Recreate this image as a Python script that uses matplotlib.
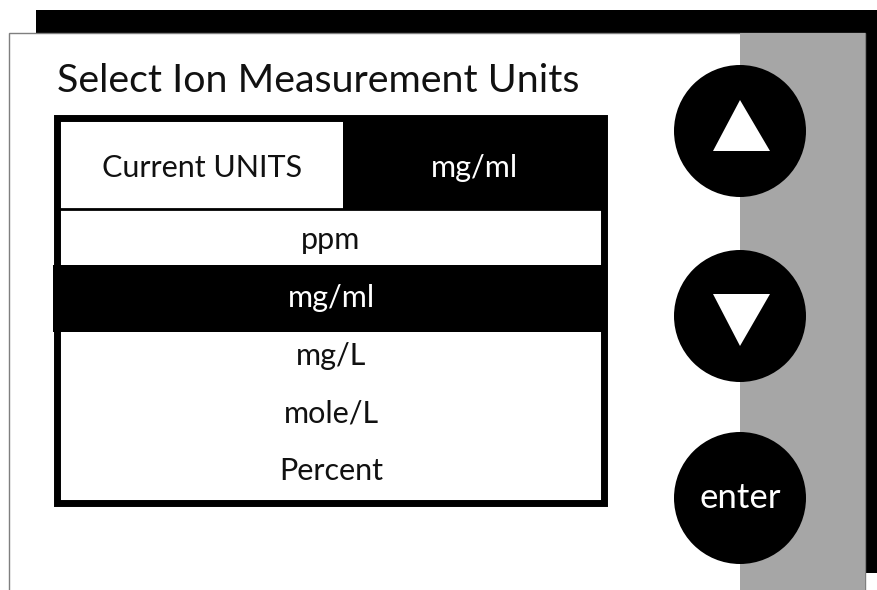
import matplotlib.pyplot as plt
from matplotlib.patches import Rectangle, Circle, Polygon

plt.rcParams['font.family'] = ['Lato', 'DejaVu Sans']

title = "Select Ion Measurement Units"
currentLabel = "Current UNITS"
currentUnit = "mg/ml"
unitOptions = ["ppm", "mg/ml", "mg/L", "mole/L", "Percent"]
selectedUnit = "mg/ml"
buttons = ["up", "down", "enter"]


def drawScreen(ax):
    # drop shadow and panel
    ax.add_patch(Rectangle((36, 10), 841, 563, facecolor="black", edgecolor="none"))
    ax.add_patch(Rectangle((9, 33), 856, 600, facecolor="white", edgecolor="#7f7f7f", linewidth=1))
    ax.add_patch(Rectangle((740, 33), 125, 600, facecolor="#a6a6a6", edgecolor="none"))

    ax.text(57, 81, title, fontsize=28.4, ha="left", va="center", color="#111111")

    # list box
    ax.add_patch(Rectangle((57, 118), 547, 385, facecolor="white", edgecolor="black", linewidth=5))
    ax.add_patch(Rectangle((343, 118), 261, 91, facecolor="black", edgecolor="none"))
    ax.plot([57, 604], [209, 209], color="black", linewidth=2)
    ax.text(202, 168, currentLabel, fontsize=22, ha="center", va="center", color="#111111")
    ax.text(474, 168, currentUnit, fontsize=22, ha="center", va="center", color="white")

    rowStart = 240
    rowStep = 57.75
    for i, unit in enumerate(unitOptions):
        y = rowStart + i * rowStep
        col = "#111111"
        if unit == selectedUnit:
            ax.add_patch(Rectangle((53, y - 33), 553, 67, facecolor="black", edgecolor="none"))
            col = "white"
        ax.text(331, y, unit, fontsize=22, ha="center", va="center", color=col)

    # buttons
    cx = 740
    r = 66
    centers = {"up": 131, "down": 316, "enter": 498}
    for b in buttons:
        cy = centers[b]
        ax.add_patch(Circle((cx, cy), r, facecolor="black", edgecolor="none"))
        if b == "up":
            ax.add_patch(Polygon([(713, cy + 20), (770, cy + 20), (cx, cy - 31)], facecolor="white"))
        elif b == "down":
            ax.add_patch(Polygon([(713, cy - 22), (770, cy - 22), (cx, cy + 30)], facecolor="white"))
        else:
            ax.text(cx, cy, "enter", fontsize=25, ha="center", va="center", color="white")


def main():
    fig = plt.figure(figsize=(8.77, 5.90), dpi=100)
    ax = fig.add_axes([0, 0, 1, 1])
    ax.set_xlim(0, 877)
    ax.set_ylim(590, 0)
    ax.axis("off")
    drawScreen(ax)
    fig.savefig("out.png", dpi=100, facecolor="white")


if __name__ == "__main__":
    main()
